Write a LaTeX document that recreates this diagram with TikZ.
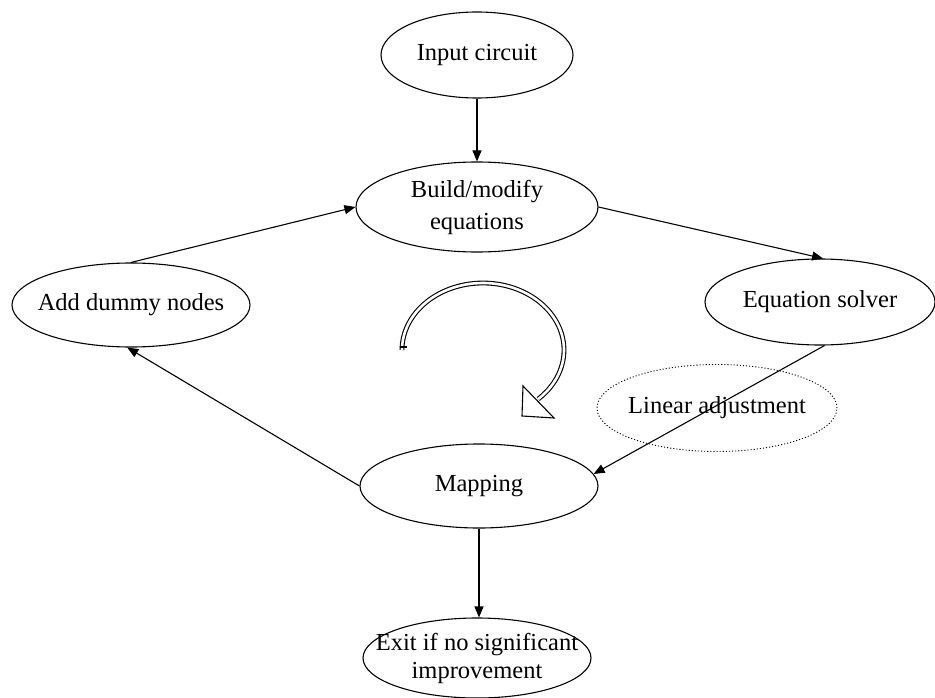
\documentclass[tikz,border=0pt]{standalone}
\usepackage{fontspec}
\setmainfont{Liberation Serif}
\usetikzlibrary{shapes.geometric,arrows.meta}
\begin{document}
\begin{tikzpicture}[x=1pt,y=-1pt,
  box/.style={draw, ellipse, line width=1.1pt, inner sep=0pt},
  txt/.style={label={[align=center, font=\fontsize{24.5}{32}\selectfont, inner sep=0pt]center:#1}},
  txttwo/.style={label={[align=center, font=\fontsize{24.5}{28}\selectfont, inner sep=0pt]center:#1}},
  arr/.style={draw, line width=1.1pt, -{Triangle[length=11pt,width=9pt]}},
  ln/.style={line width=1.1pt}]
\useasboundingbox (0,0) rectangle (935,698);
\node[box, minimum width=192pt, minimum height=86pt, txt={Input circuit}] (input) at (477,55) {};
\node[box, minimum width=242pt, minimum height=90pt, txt={Build/modify\\equations}] (build) at (477,207) {};
\node[box, minimum width=238pt, minimum height=84pt, txt={Add dummy nodes}] (dummy) at (131,305) {};
\node[box, minimum width=230pt, minimum height=86pt, txt={Equation solver}] (solver) at (820,302) {};
\node[box, dotted, line width=0.9pt, minimum width=240pt, minimum height=87pt, txt={Linear adjustment}] (linadj) at (717,408) {};
\node[box, minimum width=238pt, minimum height=84pt, txt={Mapping}] (mapping) at (479,486) {};
\node[box, minimum width=228pt, minimum height=80pt, txttwo={Exit if no significant\\improvement}] (exit) at (477,658) {};
\draw[arr] (input.south) -- (build.north);
\draw[arr] (dummy.north) -- (build.west);
\draw[arr] (build.east) -- (solver.86);
\draw[arr] (solver.-84) -- (mapping.6);
\draw[arr] (mapping.west) -- (dummy.-95);
\draw[arr] (mapping.south) -- (mapping.south |- exit.north);
% curved hollow arrow
\draw[double, double distance=2.6pt, line width=1.1pt]
  plot[domain=180:-47, samples=80] ({483+81*cos(\x)}, {350-67*sin(\x)});
\draw[ln] (399.5,347) -- (406.5,347);
\draw[ln, fill=white, line join=miter] (523,386) -- (522,416) -- (554,418) -- cycle;
\end{tikzpicture}
\end{document}
